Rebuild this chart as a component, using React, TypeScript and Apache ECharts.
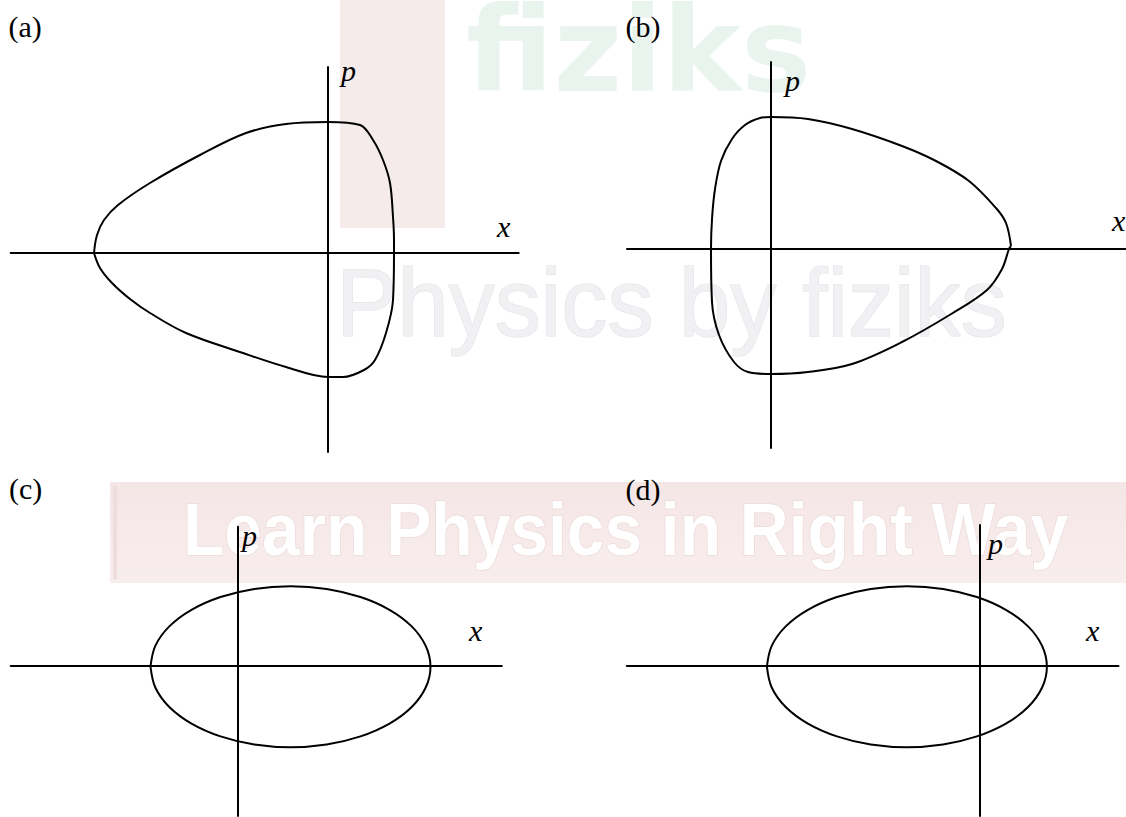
import { useEffect, useRef } from "react";
import * as echarts from "echarts";

// Phase-space trajectories (x, p) for four candidate answers.
const PANEL_LABELS = ["(a)", "(b)", "(c)", "(d)"];
const X_NAME = "x";
const P_NAME = "p";

// (a) egg-shaped orbit, pointed toward negative x
const A_X = [-23.4, -23.1, -22.4, -21.0, -17.8, -12.8, -8.2, -4.2, 0, 3.2, 4.5, 5.5, 6.2, 6.5, 6.6, 6.6, 6.5, 5.8, 4.7, 3.6, 1.5, 0, -4.2, -8.5, -14.2, -17.8, -19.8, -21.6, -22.8, -23.4];
const A_P = [0, 1.8, 3.3, 4.8, 7.0, 9.8, 12.0, 12.9, 13.1, 12.8, 11.3, 9.3, 7.0, 3.6, 1.3, 0, -4.7, -8.0, -10.7, -11.7, -12.4, -12.4, -11.4, -10.0, -8.0, -6.0, -4.6, -3.0, -1.5, 0];

// (b) egg-shaped orbit, pointed toward positive x
const B_X = [24.0, 23.5, 22.5, 19.8, 16.5, 13.1, 8.1, 3.7, 0, -1.1, -2.6, -3.9, -5.0, -5.6, -5.9, -6.0, -5.9, -5.2, -3.7, -2.3, 0, 3.7, 8.1, 13.1, 18.1, 21.6, 23.1, 23.8, 24.0];
const B_P = [0.3, 2.6, 4.1, 6.8, 8.8, 10.3, 12.0, 13.0, 13.2, 13.1, 12.4, 11.0, 8.8, 6.0, 3.0, 0, -5.3, -8.6, -11.3, -12.3, -12.5, -12.3, -11.5, -9.3, -6.45, -4.1, -2.0, 0, 0.3];

// (c) ellipse centred at positive x
const C_X = [-8.7, -8.22, -6.82, -4.6, -1.7, 1.68, 5.3, 8.92, 12.3, 15.2, 17.42, 18.82, 19.3, 18.82, 17.42, 15.2, 12.3, 8.92, 5.3, 1.68, -1.7, -4.6, -6.82, -8.22, -8.7];
const C_P = [-0.1, 1.98, 3.93, 5.59, 6.87, 7.68, 7.95, 7.68, 6.87, 5.59, 3.93, 1.98, -0.1, -2.18, -4.13, -5.79, -7.07, -7.88, -8.15, -7.88, -7.07, -5.79, -4.13, -2.18, -0.1];

// (d) ellipse centred at negative x
const D_X = [-21.33, -20.85, -19.45, -17.23, -14.33, -10.95, -7.33, -3.71, -0.33, 2.57, 4.79, 6.19, 6.67, 6.19, 4.79, 2.57, -0.33, -3.71, -7.33, -10.95, -14.33, -17.23, -19.45, -20.85, -21.33];
const D_P = [-0.1, 1.98, 3.93, 5.59, 6.87, 7.68, 7.95, 7.68, 6.87, 5.59, 3.93, 1.98, -0.1, -2.18, -4.13, -5.79, -7.07, -7.88, -8.15, -7.88, -7.07, -5.79, -4.13, -2.18, -0.1];

const CURVES = [
  [A_X, A_P],
  [B_X, B_P],
  [C_X, C_P],
  [D_X, D_P],
];

// Layout of each panel: axis extents in px and value ranges.
const FRAMES = [
  { left: 10.7, top: 67, width: 508, height: 385, xMin: -31.73, xMax: 19.07, pMin: -19.9, pMax: 18.6 },
  { left: 627, top: 62, width: 499, height: 386, xMin: -14.4, xMax: 35.5, pMin: -19.9, pMax: 18.7 },
  { left: 10.7, top: 526.7, width: 491.1, height: 289.3, xMin: -22.68, xMax: 26.43, pMin: -15.03, pMax: 13.9 },
  { left: 626.8, top: 525, width: 491.7, height: 291, xMin: -35.34, xMax: 13.83, pMin: -15.03, pMax: 14.07 },
];

// Label anchors: panel tag, p-axis name, x-axis name (px, vertical middle)
const TAG_POS = [[8.5, 26.5], [625.5, 26.5], [9, 488], [625.5, 489]];
const P_POS = [[341, 70.5], [785, 80], [242, 535], [988, 543]];
const X_POS = [[497, 226.5], [1112, 220.5], [469, 630.5], [1086, 630.5]];

const INK = "#000";
const SERIF = "'Liberation Serif', 'Times New Roman', serif";

function zip(xs: number[], ps: number[]) {
  return xs.map((x, i) => [x, ps[i]]);
}

function buildOption() {
  const grid = FRAMES.map((f) => ({
    left: f.left,
    top: f.top,
    width: f.width,
    height: f.height,
    containLabel: false,
  }));
  const axisLine = { show: true, onZero: true, lineStyle: { color: INK, width: 2 } };
  const xAxis = FRAMES.map((f, i) => ({
    type: "value",
    gridIndex: i,
    min: f.xMin,
    max: f.xMax,
    axisLine,
    axisTick: { show: false },
    axisLabel: { show: false },
    splitLine: { show: false },
  }));
  const yAxis = FRAMES.map((f, i) => ({
    type: "value",
    gridIndex: i,
    min: f.pMin,
    max: f.pMax,
    axisLine,
    axisTick: { show: false },
    axisLabel: { show: false },
    splitLine: { show: false },
  }));
  const series = CURVES.map(([xs, ps], i) => ({
    type: "line",
    xAxisIndex: i,
    yAxisIndex: i,
    data: zip(xs, ps),
    symbol: "none",
    showSymbol: false,
    smooth: 0.35,
    silent: true,
    lineStyle: { color: INK, width: 2 },
    z: 5,
  }));

  const textStyle = (text: string, italic: boolean) => ({
    text,
    fontSize: 30,
    fontFamily: SERIF,
    fontStyle: italic ? "italic" : "normal",
    fill: INK,
    align: "left",
    verticalAlign: "middle",
  });

  const labels: any[] = [];
  PANEL_LABELS.forEach((t, i) => {
    labels.push({ type: "text", x: TAG_POS[i][0], y: TAG_POS[i][1], z: 10, style: textStyle(t, false) });
    labels.push({ type: "text", x: P_POS[i][0], y: P_POS[i][1], z: 10, style: textStyle(P_NAME, true) });
    labels.push({ type: "text", x: X_POS[i][0], y: X_POS[i][1], z: 10, style: textStyle(X_NAME, true) });
  });

  // faint publisher watermark behind the drawing
  const watermark: any[] = [
    { type: "rect", z: -1, silent: true, shape: { x: 340, y: 0, width: 105, height: 228 }, style: { fill: "#f6ebeb" } },
    {
      type: "text", z: -1, silent: true, x: 466, y: 50,
      style: { text: "fiziks", fontSize: 118, fontWeight: "bold", fontFamily: "'DejaVu Sans', sans-serif", fill: "#e9f4ee", align: "left", verticalAlign: "middle" },
    },
    {
      type: "text", z: -1, silent: true, x: 336, y: 302.7, scaleX: 0.96,
      style: { text: "Physics by fiziks", fontSize: 96, fontFamily: "'Liberation Sans', Arial, sans-serif", fill: "#f1f1f4", stroke: "#e2e2e8", lineWidth: 1.2, align: "left", verticalAlign: "middle" },
    },
    {
      type: "rect", z: -1, silent: true, shape: { x: 110, y: 482, width: 1016, height: 101 },
      style: {
        fill: new echarts.graphic.LinearGradient(0, 0, 0, 1, [
          { offset: 0, color: "#f5e6e6" },
          { offset: 1, color: "#f8eded" },
        ]),
      },
    },
    { type: "rect", z: -1, silent: true, shape: { x: 113, y: 486, width: 4, height: 93 }, style: { fill: "#efdddd" } },
    {
      type: "text", z: -1, silent: true, x: 183, y: 529.4, scaleX: 0.915,
      style: { text: "Learn Physics in Right Way", fontSize: 74, fontWeight: "bold", fontFamily: "'Liberation Sans', Arial, sans-serif", fill: "#ffffff", stroke: "#ecdada", lineWidth: 1.5, align: "left", verticalAlign: "middle" },
    },
  ];

  return {
    animation: false,
    backgroundColor: "#ffffff",
    grid,
    xAxis,
    yAxis,
    series,
    graphic: { elements: [...watermark, ...labels] },
  };
}

export default function App() {
  const ref = useRef<HTMLDivElement>(null);
  useEffect(() => {
    if (!ref.current) return;
    const chart = echarts.init(ref.current, null, { renderer: "svg" });
    chart.setOption(buildOption() as any);
    return () => chart.dispose();
  }, []);
  return (
    <div
      ref={ref}
      style={{ position: "absolute", left: 0, top: 0, width: 1126, height: 817, background: "#fff" }}
    />
  );
}
